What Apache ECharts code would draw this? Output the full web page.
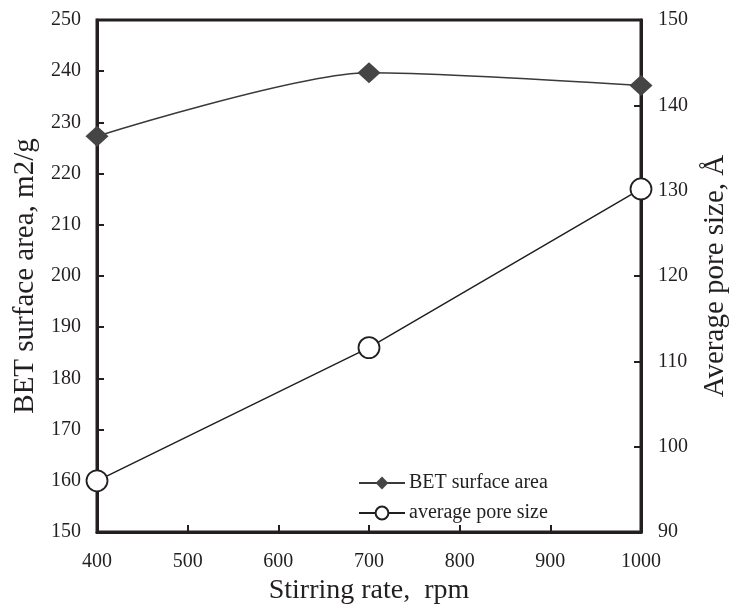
<!DOCTYPE html>
<html><head><meta charset="utf-8">
<script src="https://cdn.jsdelivr.net/npm/echarts@6/dist/echarts.min.js"></script>
<style>html,body{margin:0;padding:0;background:#fff}#c{width:732px;height:605px}</style>
</head><body><div id="c"></div>
<script>
var stirringRate = [400, 700, 1000];
var betSurfaceArea = [227.3, 239.7, 237.2];
var averagePoreSize = [96.0, 111.6, 130.2];
var xTicks = {min: 400, max: 1000, interval: 100};
var yLeftTicks = {min: 150, max: 250, interval: 10};
var yRightTicks = {min: 90, max: 150, interval: 10};

var FONT = '"Liberation Serif", "DejaVu Serif", serif';
var INK = '#231f20';
var chart = echarts.init(document.getElementById('c'), null, {renderer: 'canvas'});
function pairs(xs, ys){ return xs.map(function(x,i){ return [x, ys[i]]; }); }
function plain(v){ return String(v); }
var axisCommon = {
  axisLine: {show: true, lineStyle: {color: INK, width: 3}},
  axisTick: {show: true, inside: true, length: 7, lineStyle: {color: INK, width: 2}},
  splitLine: {show: false},
  axisLabel: {color: INK, fontFamily: FONT, fontSize: 20, formatter: plain},
  nameTextStyle: {color: INK, fontFamily: FONT, fontSize: 28}
};
chart.setOption({
  animation: false,
  backgroundColor: '#fff',
  grid: {left: 97, right: 91, top: 20, bottom: 73, containLabel: false, outerBoundsMode: 'none',
         show: true, borderColor: INK, borderWidth: 3, backgroundColor: 'transparent'},
  legend: {
    orient: 'vertical', left: 353, top: 468, itemGap: 10, itemWidth: 46, itemHeight: 16,
    textStyle: {color: INK, fontFamily: FONT, fontSize: 20, padding: [0,0,0,-1]},
    data: ['BET surface area', 'average pore size']
  },
  xAxis: Object.assign({}, axisCommon, {
    type: 'value', min: xTicks.min, max: xTicks.max, interval: xTicks.interval,
    name: 'Stirring rate,  rpm', nameLocation: 'middle', nameGap: 45,
    axisLabel: Object.assign({}, axisCommon.axisLabel, {margin: 20})
  }),
  yAxis: [
    Object.assign({}, axisCommon, {
      type: 'value', position: 'left', min: yLeftTicks.min, max: yLeftTicks.max, interval: yLeftTicks.interval,
      name: 'BET surface area, m2/g', nameLocation: 'middle', nameGap: 56,
      nameTextStyle: Object.assign({}, axisCommon.nameTextStyle, {fontSize: 29}),
      axisLabel: Object.assign({}, axisCommon.axisLabel, {margin: 16})
    }),
    Object.assign({}, axisCommon, {
      type: 'value', position: 'right', min: yRightTicks.min, max: yRightTicks.max, interval: yRightTicks.interval,
      name: 'Average pore size, Å', nameLocation: 'middle', nameGap: 60, nameRotate: 90,
      nameTextStyle: Object.assign({}, axisCommon.nameTextStyle, {fontSize: 29}),
      axisLabel: Object.assign({}, axisCommon.axisLabel, {margin: 17})
    })
  ],
  series: [
    {
      name: 'BET surface area', type: 'line', yAxisIndex: 0, smooth: 0.25,
      data: pairs(stirringRate, betSurfaceArea),
      symbol: 'diamond', symbolSize: [23, 21],
      lineStyle: {color: '#3a3a3a', width: 1.5},
      itemStyle: {color: '#454545', borderColor: '#454545', borderWidth: 0},
      z: 3
    },
    {
      name: 'average pore size', type: 'line', yAxisIndex: 1,
      data: pairs(stirringRate, averagePoreSize),
      symbol: 'circle', symbolSize: 21,
      lineStyle: {color: INK, width: 1.5},
      itemStyle: {color: '#fff', borderColor: INK, borderWidth: 1.8},
      z: 3
    }
  ]
});
</script></body></html>
